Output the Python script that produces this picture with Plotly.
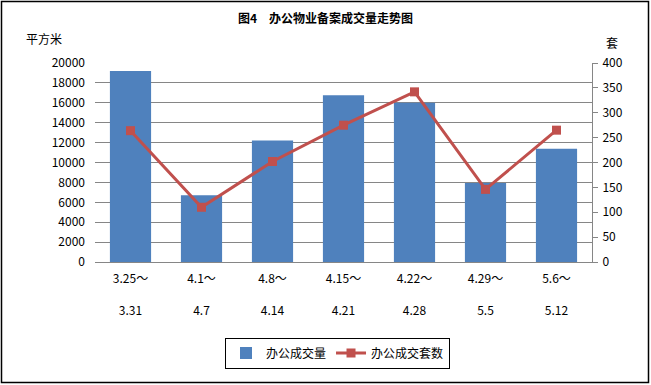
import plotly.graph_objects as go

categories = ["3.25～<br> <br>3.31", "4.1～<br> <br>4.7", "4.8～<br> <br>4.14", "4.15～<br> <br>4.21",
              "4.22～<br> <br>4.28", "4.29～<br> <br>5.5", "5.6～<br> <br>5.12"]
area = [19200, 6700, 12200, 16750, 16000, 7950, 11370]
units = [264, 110, 202, 275, 342, 146, 265]
left_ticks = list(range(0, 20001, 2000))
right_ticks = list(range(0, 401, 50))

FONT = "Noto Sans CJK SC"
x = list(range(len(categories)))

fig = go.Figure()
fig.add_trace(go.Bar(x=x, y=area, name="办公成交量", marker=dict(color="#4F81BD", line=dict(width=0)),
                     yaxis="y"))
fig.add_trace(go.Scatter(x=x, y=units, name="办公成交套数", mode="lines+markers",
                         line=dict(color="#C0504D", width=3),
                         marker=dict(symbol="square", size=9, color="#C0504D"), yaxis="y2"))

L, R, T, B = 95, 59, 63, 123
W, H = 651, 385
pw, ph = W - L - R, H - T - B

def px(xp):
    return (xp - L) / pw

def py(yp):
    return (H - B - yp) / ph

fig.update_layout(
    width=W, height=H,
    margin=dict(l=L, r=R, t=T, b=B, autoexpand=False),
    paper_bgcolor="white", plot_bgcolor="white",
    font=dict(family=FONT, size=12, color="black"),
    title=dict(text="<b>图4　办公物业备案成交量走势图</b>", x=0.5, xanchor="center",
               y=1 - 19 / H, yanchor="middle", font=dict(size=12, family=FONT)),
    bargap=0.42,
    showlegend=True,
    legend=dict(orientation="h", x=0.5 * (px(230) + px(445)), xanchor="center", y=py(353), yanchor="middle",
                bordercolor="black", borderwidth=1, bgcolor="white", font=dict(size=12),
                itemwidth=30, tracegroupgap=0),
    xaxis=dict(tickmode="array", tickvals=x, ticktext=categories, range=[-0.5, 6.5],
               showline=True, linecolor="#868686", linewidth=1, showgrid=False, ticks="",
               tickfont=dict(size=12), ticklabelstandoff=6),
    yaxis=dict(range=[0, 20000], tickmode="array", tickvals=left_ticks,
               ticktext=[str(v) for v in left_ticks], showgrid=True,
               gridcolor="#868686", gridwidth=1, zeroline=False, showline=False, ticks="",
               ticklabelstandoff=9, tickfont=dict(size=12)),
    yaxis2=dict(range=[0, 400], tickmode="array", tickvals=right_ticks,
                ticktext=[str(v) for v in right_ticks], overlaying="y", side="right",
                showgrid=False, zeroline=False, showline=True, linecolor="#868686", linewidth=1,
                ticks="outside", ticklen=5, tickcolor="#868686", tickfont=dict(size=12),
                ticklabelstandoff=2),
    annotations=[
        dict(text="平方米", xref="paper", yref="paper", x=px(24), y=py(39), xanchor="left",
             yanchor="middle", showarrow=False, font=dict(size=12)),
        dict(text="套", xref="paper", yref="paper", x=px(612), y=py(42), xanchor="center",
             yanchor="middle", showarrow=False, font=dict(size=12)),
    ],
    shapes=[
        dict(type="rect", xref="paper", yref="paper", x0=px(1.5), x1=px(648.5), y0=py(382.5), y1=py(1.5),
             line=dict(color="black", width=1.5), fillcolor="rgba(0,0,0,0)", layer="above"),
    ],
)

fig.write_html("out.html", config={"displayModeBar": False},
               post_script="document.body.style.margin='0';")
